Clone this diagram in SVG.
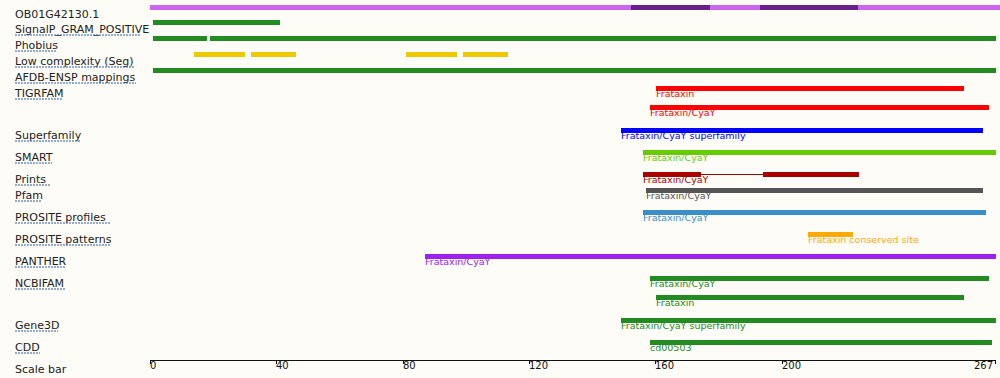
<svg xmlns="http://www.w3.org/2000/svg" width="1000" height="378" viewBox="0 0 1000 378">
<style>
.lbl{font-family:"DejaVu Sans",sans-serif;font-size:11px;fill:#222}
.ul{stroke:#2a5db0;stroke-width:1;stroke-dasharray:2,1}
.ft{font-family:"DejaVu Sans",sans-serif;font-size:9.5px}
.tk{font-family:"DejaVu Sans",sans-serif;font-size:10px;fill:#111}
</style>
<rect width="1000" height="378" fill="#fdfcf7"/>
<g id="labels">
<text class="lbl" x="15" y="18">OB01G42130.1</text>
<text class="lbl" x="15" y="33">SignalP_GRAM_POSITIVE</text><line class="ul" x1="15" y1="35" x2="141" y2="35"/>
<text class="lbl" x="15" y="49">Phobius</text><line class="ul" x1="15" y1="51" x2="57" y2="51"/>
<text class="lbl" x="15" y="65">Low complexity (Seg)</text><line class="ul" x1="15" y1="67" x2="135" y2="67"/>
<text class="lbl" x="15" y="81">AFDB-ENSP mappings</text><line class="ul" x1="15" y1="83" x2="136" y2="83"/>
<text class="lbl" x="15" y="97">TIGRFAM</text><line class="ul" x1="15" y1="99" x2="63" y2="99"/>
<text class="lbl" x="15" y="139">Superfamily</text><line class="ul" x1="15" y1="141" x2="81" y2="141"/>
<text class="lbl" x="15" y="161">SMART</text><line class="ul" x1="15" y1="163" x2="52" y2="163"/>
<text class="lbl" x="15" y="183">Prints</text><line class="ul" x1="15" y1="185" x2="50" y2="185"/>
<text class="lbl" x="15" y="199">Pfam</text><line class="ul" x1="15" y1="201" x2="42" y2="201"/>
<text class="lbl" x="15" y="221">PROSITE profiles</text><line class="ul" x1="15" y1="223" x2="111" y2="223"/>
<text class="lbl" x="15" y="243">PROSITE patterns</text><line class="ul" x1="15" y1="245" x2="111" y2="245"/>
<text class="lbl" x="15" y="265">PANTHER</text><line class="ul" x1="15" y1="267" x2="66" y2="267"/>
<text class="lbl" x="15" y="287">NCBIFAM</text><line class="ul" x1="15" y1="289" x2="66" y2="289"/>
<text class="lbl" x="15" y="329">Gene3D</text><line class="ul" x1="15" y1="331" x2="58" y2="331"/>
<text class="lbl" x="15" y="351">CDD</text><line class="ul" x1="15" y1="353" x2="40" y2="353"/>
<text class="lbl" x="15" y="373">Scale bar</text>
</g>
<g id="seq">
<rect x="150" y="5" width="850" height="5" fill="#cc66ee"/>
<rect x="631" y="5" width="79" height="5" fill="#662288"/>
<rect x="760" y="5" width="98" height="5" fill="#662288"/>
</g>
<g id="signalp"><rect x="153" y="20" width="127" height="5" fill="#228b22"/></g>
<g id="phobius"><rect x="153" y="36" width="54" height="5" fill="#228b22"/><rect x="210" y="36" width="786" height="5" fill="#228b22"/></g>
<g id="seg" fill="#eec900">
<rect x="194" y="52" width="51" height="5"/><rect x="251" y="52" width="45" height="5"/>
<rect x="406" y="52" width="51" height="5"/><rect x="463" y="52" width="45" height="5"/>
</g>
<g id="afdb"><rect x="153" y="68" width="843" height="5" fill="#228b22"/></g>
<g id="tigrfam" class="ft" fill="#ff0000">
<rect x="656" y="86" width="308" height="5"/><text x="656" y="97">Frataxin</text>
<rect x="650" y="105" width="339" height="5"/><text x="650" y="116">Frataxin/CyaY</text>
</g>
<g id="superfamily" class="ft" fill="#0000ff">
<rect x="621" y="128" width="362" height="5"/><text x="621" y="139">Frataxin/CyaY superfamily</text>
</g>
<g id="smart" class="ft" fill="#66cc00">
<rect x="643" y="150" width="353" height="5"/><text x="643" y="161">Frataxin/CyaY</text>
</g>
<g id="prints" class="ft" fill="#aa0000">
<rect x="643" y="172" width="58" height="5"/><rect x="701" y="174" width="62" height="1"/><rect x="763" y="172" width="96" height="5"/>
<text x="643" y="183">Frataxin/CyaY</text>
</g>
<g id="pfam" class="ft" fill="#555555">
<rect x="646" y="188" width="337" height="5"/><text x="646" y="199">Frataxin/CyaY</text>
</g>
<g id="prosite-profiles" class="ft" fill="#3a8fc8">
<rect x="643" y="210" width="343" height="5"/><text x="643" y="221">Frataxin/CyaY</text>
</g>
<g id="prosite-patterns" class="ft" fill="#ffaa00">
<rect x="808" y="232" width="45" height="5"/><text x="808" y="243">Frataxin conserved site</text>
</g>
<g id="panther" class="ft" fill="#a020f0">
<rect x="425" y="254" width="571" height="5"/><text x="425" y="265">Frataxin/CyaY</text>
</g>
<g id="ncbifam" class="ft" fill="#228b22">
<rect x="650" y="276" width="339" height="5"/><text x="650" y="287">Frataxin/CyaY</text>
<rect x="656" y="295" width="308" height="5"/><text x="656" y="306">Frataxin</text>
</g>
<g id="gene3d" class="ft" fill="#228b22">
<rect x="621" y="318" width="375" height="5"/><text x="621" y="329">Frataxin/CyaY superfamily</text>
</g>
<g id="cdd" class="ft" fill="#228b22">
<rect x="650" y="340" width="342" height="5"/><text x="650" y="351">cd00503</text>
</g>
<g id="scalebar" stroke="#111" stroke-width="1">
<line x1="150" y1="360.5" x2="995.5" y2="360.5"/>
<line x1="150.5" y1="360" x2="150.5" y2="364"/>
<line x1="276.5" y1="360" x2="276.5" y2="364"/>
<line x1="403.5" y1="360" x2="403.5" y2="364"/>
<line x1="529.5" y1="360" x2="529.5" y2="364"/>
<line x1="655.5" y1="360" x2="655.5" y2="364"/>
<line x1="782.5" y1="360" x2="782.5" y2="364"/>
<line x1="995.5" y1="360" x2="995.5" y2="364"/>
<g stroke="none">
<text class="tk" x="150" y="369">0</text>
<text class="tk" x="276" y="369">40</text>
<text class="tk" x="403" y="369">80</text>
<text class="tk" x="529" y="369">120</text>
<text class="tk" x="655" y="369">160</text>
<text class="tk" x="782" y="369">200</text>
<text class="tk" x="993" y="369" text-anchor="end">267</text>
</g>
</g>
</svg>
